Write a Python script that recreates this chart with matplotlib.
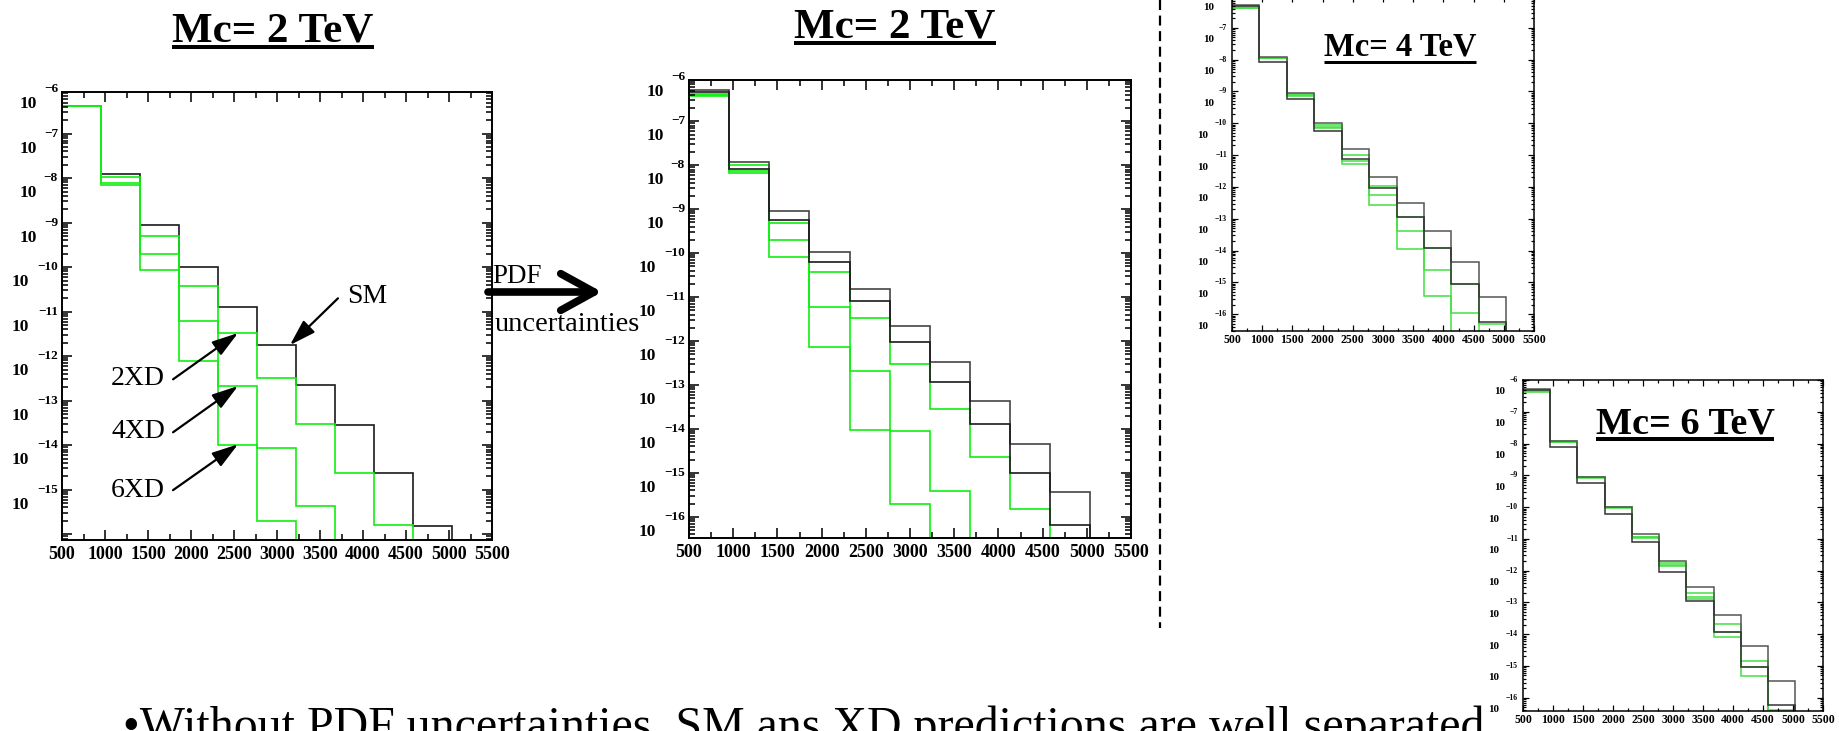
import numpy as np
import matplotlib
matplotlib.use("Agg")
import matplotlib.pyplot as plt
import matplotlib.transforms as mtransforms
from matplotlib.lines import Line2D
from matplotlib.ticker import LogLocator, MultipleLocator, NullFormatter

plt.rcParams['font.family'] = ['Liberation Serif', 'DejaVu Serif']

W, H, DPI = 1839, 731, 100

# mass bins (GeV)
edges = [500, 954, 1408, 1862, 2316, 2770, 3224, 3678, 4132, 4586, 5040, 5494]
x_ticks = [500, 1000, 1500, 2000, 2500, 3000, 3500, 4000, 4500, 5000, 5500]

# Mc = 2 TeV, no PDF uncertainties
mc2_sm = [4.12e-7, 1.24e-8, 9.05e-10, 1.02e-10, 1.29e-11, 1.77e-12, 2.24e-13, 2.78e-14, 2.40e-15, 1.52e-16, 0]
mc2_xd2 = [4.12e-7, 1.08e-8, 5.13e-10, 3.87e-11, 3.35e-12, 3.27e-13, 2.92e-14, 2.40e-15, 1.61e-16, 0, 0]
mc2_xd4 = [4.12e-7, 7.82e-9, 2.02e-10, 6.32e-12, 2.12e-13, 8.75e-15, 4.29e-16, 0, 0, 0, 0]
mc2_xd6 = [4.12e-7, 6.93e-9, 8.85e-11, 7.87e-13, 1.00e-14, 2.01e-16, 0, 0, 0, 0, 0]

# Mc = 2 TeV, with PDF uncertainties
pdf_sm_hi = [5.06e-7, 1.20e-8, 9.22e-10, 1.08e-10, 1.55e-11, 2.19e-12, 3.26e-13, 4.37e-14, 4.59e-15, 3.77e-16, 0]
pdf_sm_lo = [4.56e-7, 8.05e-9, 5.56e-10, 6.15e-11, 7.96e-12, 9.61e-13, 1.18e-13, 1.33e-14, 1.02e-15, 6.68e-17, 0]
pdf_xd2 = [4.10e-7, 9.93e-9, 4.92e-10, 3.78e-11, 3.27e-12, 3.09e-13, 2.92e-14, 2.32e-15, 1.55e-16, 0, 0]
pdf_xd4 = [3.89e-7, 7.38e-9, 1.95e-10, 5.92e-12, 2.07e-13, 8.91e-15, 3.97e-16, 0, 0, 0, 0]
pdf_xd6 = [3.76e-7, 6.53e-9, 8.28e-11, 7.53e-13, 9.73e-15, 1.98e-16, 0, 0, 0, 0, 0]

# Mc = 4 TeV
mc4_sm_hi = [5.16e-7, 1.19e-8, 9.25e-10, 1.05e-10, 1.53e-11, 2.11e-12, 3.06e-13, 4.13e-14, 4.27e-15, 3.56e-16, 0]
mc4_sm_lo = [4.69e-7, 8.13e-9, 5.71e-10, 5.91e-11, 7.41e-12, 9.08e-13, 1.17e-13, 1.21e-14, 8.89e-16, 5.82e-17, 0]
mc4_xd2 = [4.47e-7, 1.14e-8, 8.20e-10, 8.91e-11, 9.91e-12, 1.10e-12, 1.17e-13, 1.21e-14, 8.89e-16, 4.80e-17, 0]
mc4_xd4 = [4.26e-7, 1.11e-8, 7.82e-10, 7.89e-11, 6.73e-12, 5.61e-13, 4.24e-14, 2.45e-15, 1.12e-16, 0, 0]
mc4_xd6 = [4.16e-7, 1.09e-8, 7.45e-10, 7.00e-11, 5.16e-12, 2.72e-13, 1.10e-14, 3.73e-16, 0, 0, 0]

# Mc = 6 TeV
mc6_sm_hi = [5.21e-7, 1.20e-8, 9.06e-10, 1.03e-10, 1.42e-11, 2.06e-12, 2.97e-13, 4.00e-14, 4.23e-15, 3.34e-16, 0]
mc6_sm_lo = [4.84e-7, 7.59e-9, 5.58e-10, 5.90e-11, 7.76e-12, 9.25e-13, 1.10e-13, 1.20e-14, 9.02e-16, 5.87e-17, 0]
mc6_xd2 = [4.61e-7, 1.17e-8, 8.84e-10, 1.00e-10, 1.17e-11, 1.69e-12, 1.92e-13, 2.03e-14, 1.46e-15, 3.98e-17, 0]
mc6_xd4 = [4.40e-7, 1.15e-8, 8.63e-10, 9.82e-11, 1.11e-11, 1.54e-12, 1.51e-13, 1.20e-14, 9.02e-16, 0, 0]
mc6_xd6 = [4.30e-7, 1.12e-8, 8.41e-10, 9.58e-11, 1.04e-11, 1.43e-12, 1.28e-13, 8.32e-15, 4.81e-16, 0, 0]

BLACK = '#1a1a1a'
GREEN = '#11ee11'

fig = plt.figure(figsize=(W / DPI, H / DPI), dpi=DPI)


def add_panel(x0, y0, x1, y1):
    """axes placed by pixel box (top-left origin)"""
    return fig.add_axes([x0 / W, 1 - y1 / H, (x1 - x0) / W, (y1 - y0) / H])


def style_panel(ax, ylo, yhi, exps, big, skip_exp=()):
    ax.set_xlim(500, 5500)
    ax.set_yscale('log')
    ax.set_ylim(10.0 ** ylo, 10.0 ** yhi)
    if big:
        xfs, tfs, efs, maj, mnr, pad, lw = 13, 12.5, 9.5, 7, 4, 4, 1.4
        exp_dx, ten_dx1, ten_dx2, ten_dy = 4, 25, 33, 15
    else:
        xfs, tfs, efs, maj, mnr, pad, lw = 8.5, 8, 5.5, 4, 2.5, 2.5, 1.1
        exp_dx, ten_dx1, ten_dx2, ten_dy = 5, 18, 24, 12
    ax.set_xticks(x_ticks, labels=[str(v) for v in x_ticks], fontsize=xfs, fontweight='bold')
    ax.xaxis.set_minor_locator(MultipleLocator(250))
    ax.yaxis.set_major_locator(LogLocator(base=10, numticks=40))
    ax.yaxis.set_minor_locator(LogLocator(base=10, subs=np.arange(2, 10), numticks=40))
    ax.yaxis.set_major_formatter(NullFormatter())
    ax.yaxis.set_minor_formatter(NullFormatter())
    ax.tick_params(which='both', direction='in', top=True, right=True, width=lw * 0.8)
    ax.tick_params(which='major', length=maj, pad=pad)
    ax.tick_params(which='minor', length=mnr)
    for s in ax.spines.values():
        s.set_linewidth(lw)
    base = ax.get_yaxis_transform()
    for k in exps:
        y = 10.0 ** k
        if k not in skip_exp:
            tr = mtransforms.offset_copy(base, fig=fig, x=-exp_dx, y=0, units='dots')
            ax.text(0, y, '\u2212' + str(abs(k)), transform=tr, ha='right', va='center',
                    fontsize=efs, fontweight='bold')
        dx = ten_dx1 if abs(k) < 10 else ten_dx2
        tr = mtransforms.offset_copy(base, fig=fig, x=-dx, y=-ten_dy, units='dots')
        ax.text(0, y, '10', transform=tr, ha='right', va='center',
                fontsize=tfs, fontweight='bold')


def draw_hist(ax, vals, color, lw=1.2):
    ax.stairs(vals, edges, baseline=None, color=color, lw=lw)


# panel 1 : Mc = 2 TeV without PDF uncertainties
ax1 = add_panel(62, 92, 492, 540)
style_panel(ax1, -16.13, -6.065, range(-6, -16, -1), True)
draw_hist(ax1, mc2_sm, BLACK)
for v in (mc2_xd2, mc2_xd4, mc2_xd6):
    draw_hist(ax1, v, GREEN)

arrow_kw = dict(arrowstyle='-|>,head_length=0.8,head_width=0.25', color='black',
                lw=1.6, mutation_scale=20, shrinkA=0, shrinkB=0)
ax1.annotate('', xy=(3151, 10 ** -11.75), xytext=(3709, 10 ** -10.70), arrowprops=arrow_kw)
ax1.text(3814, 10 ** -10.81, 'SM', fontsize=20, va='baseline', ha='left')
for lab, tip, tail, txt in [('2XD', -11.48, -12.52, -12.65),
                            ('4XD', -12.67, -13.71, -13.84),
                            ('6XD', -13.98, -15.01, -15.17)]:
    ax1.annotate('', xy=(2547, 10 ** tip), xytext=(1791, 10 ** tail), arrowprops=arrow_kw)
    ax1.text(1700, 10 ** txt, lab, fontsize=20, va='baseline', ha='right')

# panel 2 : Mc = 2 TeV with PDF uncertainties
ax2 = add_panel(689, 80, 1131, 538)
style_panel(ax2, -16.48, -6.06, range(-6, -17, -1), True)
for v in (pdf_xd2, pdf_xd4, pdf_xd6):
    draw_hist(ax2, v, GREEN)
draw_hist(ax2, pdf_sm_hi, '#444444')
draw_hist(ax2, pdf_sm_lo, BLACK)

# panel 3 : Mc = 4 TeV (top edge runs past the frame)
ax3 = add_panel(1232, -4, 1534, 331)
style_panel(ax3, -16.53, -6.0, range(-6, -17, -1), False, skip_exp=(-6,))
for v in (mc4_xd2, mc4_xd4, mc4_xd6):
    draw_hist(ax3, v, '#44e044', 1.1)
draw_hist(ax3, mc4_sm_hi, '#555555', 1.1)
draw_hist(ax3, mc4_sm_lo, '#333333', 1.1)

# panel 4 : Mc = 6 TeV
ax4 = add_panel(1523, 380, 1823, 711)
style_panel(ax4, -16.42, -6.0, range(-6, -17, -1), False)
for v in (mc6_xd2, mc6_xd4, mc6_xd6):
    draw_hist(ax4, v, '#44e044', 1.1)
draw_hist(ax4, mc6_sm_hi, '#555555', 1.1)
draw_hist(ax4, mc6_sm_lo, '#333333', 1.1)

# titles (underlined)
titles = [('Mc= 2 TeV', 273, 41, 31, 4),
          ('Mc= 2 TeV', 895, 37, 31, 4),
          ('Mc= 4 TeV', 1400, 56, 23.5, 3),
          ('Mc= 6 TeV', 1685, 433, 27.5, 4)]
title_objs = []
for txt, cx, base_y, fs, th in titles:
    t = fig.text(cx / W, 1 - base_y / H, txt, ha='center', va='baseline',
                 fontsize=fs, fontweight='bold')
    title_objs.append((t, base_y, th))

# PDF uncertainties arrow between the first two panels
fig.text(492 / W, 1 - 283 / H, 'PDF', fontsize=19.5, ha='left', va='baseline')
fig.text(495 / W, 1 - 331 / H, 'uncertainties', fontsize=20.5, ha='left', va='baseline')
fig.add_artist(matplotlib.patches.FancyArrowPatch(
    (488 / W, 1 - 292 / H), (602 / W, 1 - 292 / H), transform=fig.transFigure,
    arrowstyle='->,head_length=0.4,head_width=0.22', mutation_scale=60, lw=5.5,
    color='black', shrinkA=0, shrinkB=0))

# dashed separator
fig.add_artist(Line2D([1160 / W, 1160 / W], [1.0, 1 - 628 / H], transform=fig.transFigure,
                      color='black', lw=1.6, linestyle=(0, (4.5, 2.5))))

# bottom bullet line (cut by the frame, as in the slide)
fig.text(123 / W, 1 - 740 / H,
         '\u2022Without PDF uncertainties, SM ans XD predictions are well separated',
         fontsize=34.5, ha='left', va='baseline')

fig.canvas.draw()
for t, base_y, th in title_objs:
    bb = t.get_window_extent()
    y = (H - base_y - 6) / H
    fig.add_artist(Line2D([bb.x0 / W, bb.x1 / W], [y, y], transform=fig.transFigure,
                          color='black', lw=th * 0.72, solid_capstyle='butt'))

fig.savefig('out.png', dpi=DPI)
